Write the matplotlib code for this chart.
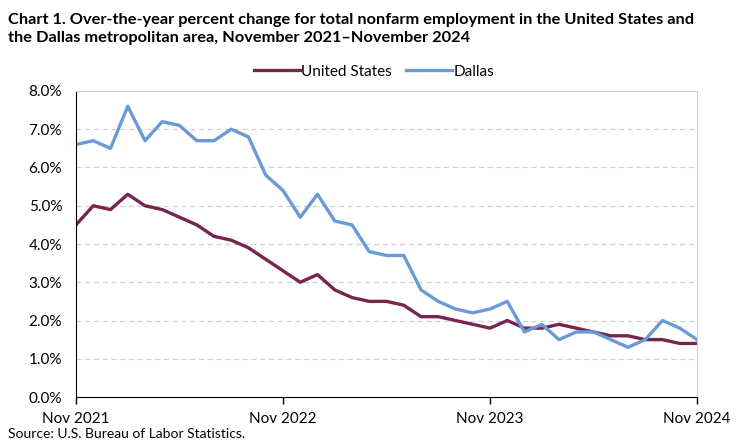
import matplotlib.pyplot as plt
from matplotlib.ticker import FuncFormatter, MultipleLocator

plt.rcParams['font.family'] = ['Lato', 'DejaVu Sans']

# Nov 2021 .. Nov 2024, monthly
months = list(range(37))
tick_pos = [0, 12, 24, 36]
tick_labels = ['Nov 2021', 'Nov 2022', 'Nov 2023', 'Nov 2024']

us = [4.5, 5.0, 4.9, 5.3, 5.0, 4.9, 4.7, 4.5, 4.2, 4.1, 3.9, 3.6,
      3.3, 3.0, 3.2, 2.8, 2.6, 2.5, 2.5, 2.4, 2.1, 2.1, 2.0, 1.9,
      1.8, 2.0, 1.8, 1.8, 1.9, 1.8, 1.7, 1.6, 1.6, 1.5, 1.5, 1.4, 1.4]
dallas = [6.6, 6.7, 6.5, 7.6, 6.7, 7.2, 7.1, 6.7, 6.7, 7.0, 6.8, 5.8,
          5.4, 4.7, 5.3, 4.6, 4.5, 3.8, 3.7, 3.7, 2.8, 2.5, 2.3, 2.2,
          2.3, 2.5, 1.7, 1.9, 1.5, 1.7, 1.7, 1.5, 1.3, 1.5, 2.0, 1.8, 1.5]

fig = plt.figure(figsize=(7.44, 4.48), dpi=100)
ax = fig.add_axes([76/744, 51/448, 621/744, 306/448])

ax.plot(months, us, color='#76254e', lw=2.4, label='United States', solid_joinstyle='round')
ax.plot(months, dallas, color='#6a9bd8', lw=2.4, label='Dallas', solid_joinstyle='round')

ax.set_xlim(0, 36)
ax.set_ylim(0, 8)
ax.yaxis.set_major_locator(MultipleLocator(1))
ax.yaxis.set_major_formatter(FuncFormatter(lambda v, p: f'{v:.1f}%'))
ax.set_xticks(tick_pos)
ax.set_xticklabels(tick_labels)
ax.tick_params(axis='x', direction='out', length=5, width=1, labelsize=11, pad=6)
ax.tick_params(axis='y', length=0, labelsize=11, pad=10)
ax.grid(axis='y', color='#d0d0d0', ls=(0, (4, 3)), lw=0.9)
ax.set_axisbelow(True)

for s in ['top', 'right']:
    ax.spines[s].set_color('#d0d0d0')
ax.spines['left'].set_color('black')
ax.spines['bottom'].set_color('black')

fig.text(8/744, 1 - 13/448, 'Chart 1. Over-the-year percent change for total nonfarm employment in the United States and\n'
         'the Dallas metropolitan area, November 2021\u2013November 2024',
         fontsize=11.8, fontweight='bold', va='top', ha='left', linespacing=1.35)
ax.legend(loc='lower center', bbox_to_anchor=(0.48, 1.01), ncol=2, frameon=False,
          fontsize=11, handlelength=3.0, handletextpad=0.1, columnspacing=0.9, borderaxespad=0.2)
fig.text(8/744, 1 - 440/448, 'Source: U.S. Bureau of Labor Statistics.', fontsize=10, ha='left', va='bottom')

fig.savefig('out.png', dpi=100)
